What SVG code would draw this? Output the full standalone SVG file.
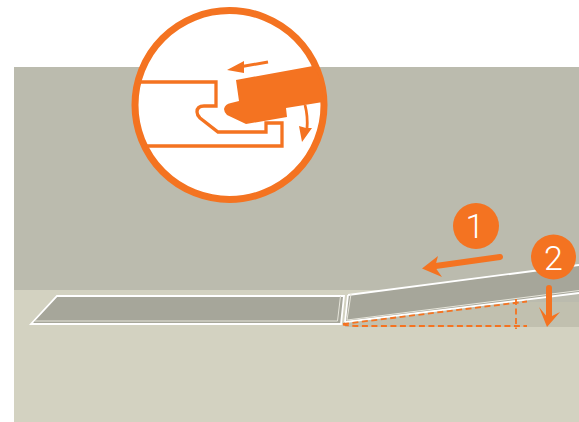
<svg xmlns="http://www.w3.org/2000/svg" width="579" height="422" viewBox="0 0 579 422">
<style>
.num{font-family:"Roboto","Liberation Sans",sans-serif;font-size:34px;font-weight:300;fill:#fff;text-anchor:middle}
.or{fill:#f47321}
.ol{fill:none;stroke:#f47321}
.wh{fill:none;stroke:#fff;stroke-width:1.800}
.thin{fill:none;stroke:#e6e5da;stroke-width:1}
.dash{fill:none;stroke:#f47321;stroke-width:1.800;stroke-dasharray:6 3.500}
</style>
<rect width="579" height="422" fill="#fff"/>
<rect x="14" y="67" width="565" height="223" fill="#bbbbae"/>
<rect x="14" y="290" width="565" height="132" fill="#d3d2c1"/>
<polygon points="345,323 579,293 579,327 345,327" fill="#c1c0af"/>
<polygon points="505,302 579,293 579,302" fill="#bbbbae"/>
<g id="plank-flat">
<polygon points="57,296 344,296 341,324 31,324" fill="#a6a69a"/>
<polygon points="57,296 344,296 341,324 31,324" class="wh"/>
<path d="M35,321H337.500L340.500,296" class="thin"/>
</g>
<g id="plank-tilted">
<polygon points="348,295 579,265 579,293 345,322" fill="#a6a69a"/>
<path d="M345,322L348,295" class="wh"/>
<path d="M348,295L579,265" class="wh"/>
<path d="M345,322L579,293" class="wh"/>
<path d="M347,320L351,294" class="thin"/>
<path d="M347,320L579,290.500" class="thin"/>
</g>
<g id="connectors">
<path d="M343,324L527,301.500" class="dash"/>
<path d="M343,324.500Q350,326 360,326H527" class="dash"/>
<path d="M516,299V329" class="dash"/>
<path d="M500,257L432,266.500" class="ol" stroke-width="6" stroke-linecap="round"/>
<polygon points="422,268.500 438,256 435,267 442,277" class="or"/>
<path d="M549,288V318" class="ol" stroke-width="6" stroke-linecap="round"/>
<polygon points="547,327 539,307 548,318 560,312" class="or"/>
</g>
<g id="badge-1"><circle cx="476" cy="226" r="23" class="or"/><text x="475" y="238" class="num">1</text></g>
<g id="badge-2"><circle cx="553.500" cy="257" r="22.500" class="or"/><text x="553.500" y="270" class="num">2</text></g>
<g id="detail">
<circle cx="229.500" cy="105" r="94.500" fill="#fff" stroke="#f47321" stroke-width="7"/>
<path d="M138,82H216V106H204Q197,106 197,112Q197,115 200,118L218,132H266V123H282V146H145" class="ol" stroke-width="3.300"/>
<path d="M236,80L313,66Q324,82 323,102L286,108L287,117L246,124L227,115Q224,112 224,109Q225,104 231,103L239,101Z" class="or"/>
<path d="M268,62L242,66.500" class="ol" stroke-width="3"/>
<polygon points="227,70 244,61 244,73" class="or"/>
<path d="M305,105Q308,116 307,129" class="ol" stroke-width="2.800"/>
<polygon points="302,142 299,126 306,128 312,128" class="or"/>
</g>
</svg>
